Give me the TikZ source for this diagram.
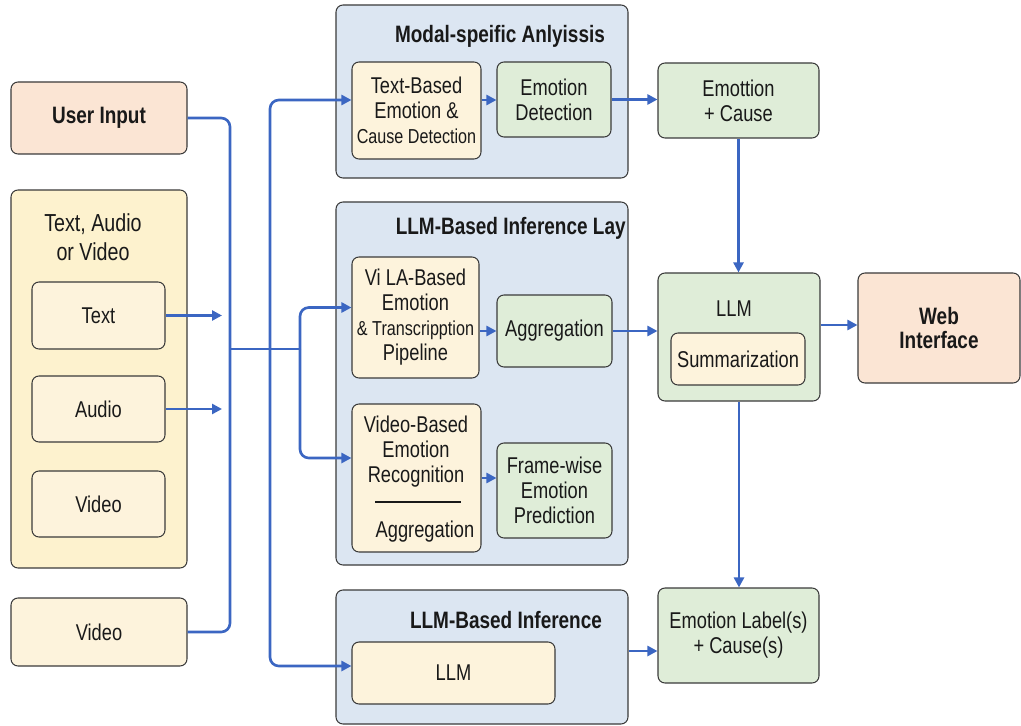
\documentclass[tikz,border=0pt]{standalone}
\usepackage{fontspec}
\setmainfont{Liberation Sans}[FakeStretch=0.8]
\usetikzlibrary{arrows.meta}
\definecolor{peachc}{HTML}{FBE5D4}
\definecolor{yelouter}{HTML}{FDF2CE}
\definecolor{yelinner}{HTML}{FDF3DC}
\definecolor{bluec}{HTML}{DCE6F2}
\definecolor{greenc}{HTML}{DFEDD8}
\definecolor{edgec}{HTML}{3A3A3A}
\definecolor{linec}{HTML}{3B66C2}
\newcommand\mkbox[7]{\node[#1,minimum width={(#5-#3)*0.02cm},minimum height={(#6-#4)*0.02cm}] (#2) at ({(#3+#5)/2},{(#4+#6)/2}) {#7};}
\newcommand\nrw{\fontsize{11.5}{14.2}\selectfont}
\newcommand\bld{\bfseries\fontsize{13.5}{15}\selectfont}
\begin{document}
\begin{tikzpicture}[x=0.02cm,y=-0.02cm,
  base/.style={draw=edgec,line width=0.6pt,rounded corners=4pt,inner sep=0pt,align=center,
    font=\fontsize{13}{14.2}\selectfont,text=black!90},
  peachbox/.style={base,fill=peachc},
  youter/.style={base,fill=yelouter},
  ibox/.style={base,fill=yelinner},
  bluebox/.style={base,fill=bluec},
  gbox/.style={base,fill=greenc},
  ttl/.style={font=\bld,inner sep=0pt,text=black!90},
  txt/.style={align=center,inner sep=0pt,font=\fontsize{13}{14.2}\selectfont,text=black!90},
  wire/.style={draw=linec,line width=1.5pt,rounded corners=5pt},
  arr/.style={wire,-{Triangle[length=0.2cm,width=0.2cm]}}]
\useasboundingbox (0,0) rectangle (1021,726);

% left column
\mkbox{peachbox}{user}{11}{82}{187}{154}{\bld User Input}
\mkbox{youter}{tav}{11}{190}{187}{568}{}
\node[txt,font=\fontsize{14}{16.5}\selectfont] (tavt) at (93,237) {Text, Audio\\or Video};
\mkbox{ibox}{text}{32}{282}{165}{349}{Text}
\mkbox{ibox}{audio}{32}{376}{165}{442}{Audio}
\mkbox{ibox}{video}{32}{471}{165}{537}{Video}
\mkbox{ibox}{video2}{11}{598}{187}{666}{Video}

% modal-specific
\mkbox{bluebox}{ms}{336}{5}{628}{178}{}
\node[ttl] (mst) at (500,36) {Modal-speific Anlyissis};
\mkbox{ibox}{tb}{352}{62}{481}{159}{Text-Based\\Emotion \&\\{\nrw Cause Detection}}
\mkbox{gbox}{ed}{497}{62}{611}{137}{Emotion\\Detection}

% LLM-based inference layer
\mkbox{bluebox}{li}{336}{202}{628}{565}{}
\node[ttl,anchor=east] (lit) at (626,228) {LLM-Based Inference Lay};
\mkbox{ibox}{vila}{352}{257}{479}{378}{Vi LA-Based\\Emotion\\{\nrw \& Transcripption}\\Pipeline}
\mkbox{gbox}{agg}{497}{295}{612}{367}{Aggregation}
\mkbox{ibox}{vb}{352}{404}{481}{552}{}
\node[txt] (vbt) at (416,452) {Video-Based\\Emotion\\Recognition};
\node[txt] (vba) at (425,532) {Aggregation};
\coordinate (vl1) at (375,502);
\coordinate (vl2) at (461,502);
\draw[line width=1pt,black!90] (vl1) -- (vl2);
\mkbox{gbox}{fw}{497}{443}{612}{538}{Frame-wise\\Emotion\\Prediction}

% LLM-based inference
\mkbox{bluebox}{lb}{336}{590}{628}{724}{}
\node[ttl] (lbt) at (506,620) {LLM-Based Inference};
\mkbox{ibox}{llm1}{352}{642}{555}{704}{LLM}

% right column
\mkbox{gbox}{ec}{658}{63}{819}{138}{Emottion\\+ Cause}
\mkbox{gbox}{llm}{658}{273}{820}{401}{}
\node[txt] (llmt) at (734,309) {LLM};
\mkbox{ibox}{sum}{671}{333}{805}{385}{Summarization}
\mkbox{peachbox}{web}{858}{273}{1020}{383}{\bld Web\\\bld Interface}
\mkbox{gbox}{el}{658}{588}{819}{683}{Emotion Label(s)\\+ Cause(s)}

% connectors
\coordinate (j230) at (230,349);
\coordinate (j270) at (270,349);
\coordinate (j300) at (300,349);
\coordinate (tend) at (222,316);
\coordinate (aend) at (222,407);
\draw[wire] (user.east) -| (j230) |- (video2.east);
\draw[arr] (text.east) -- (text.east -| tend);
\draw[arr] (audio.east) -- (audio.east -| aend);
\draw[wire] (j230) -- (j300);
\coordinate (tbin) at ([yshift=0.21cm]tb.west);
\coordinate (llmin) at ([yshift=0.14cm]llm1.west);
\coordinate (vilain) at ([yshift=0.2cm]vila.west);
\coordinate (vbin) at ([yshift=0.4cm]vb.west);
\draw[arr] (j270) |- (tbin);
\draw[arr] (j270) |- (llmin);
\draw[arr] (j300) |- (vilain);
\draw[arr] (j300) |- (vbin);
\draw[arr] (tbin -| tb.east) -- (tbin -| ed.west);
\draw[arr] (ed.east) -- (ed.east -| ec.west);
\draw[arr] (vila.east |- agg.west) -- (agg.west);
\draw[arr] (agg.east) -- (agg.east -| llm.west);
\draw[arr] (vb.east) -- (vb.east -| fw.west);
\draw[arr] (ec.south) -- (ec.south |- llm.north);
\coordinate (webin) at ([yshift=0.06cm]web.west);
\draw[arr] (webin -| llm.east) -- (webin);
\draw[arr] (llm.south) -- (llm.south |- el.north);
\coordinate (lbo) at ([yshift=0.12cm]lb.east);
\draw[arr] (lbo) -- (lbo -| el.west);
\end{tikzpicture}
\end{document}
